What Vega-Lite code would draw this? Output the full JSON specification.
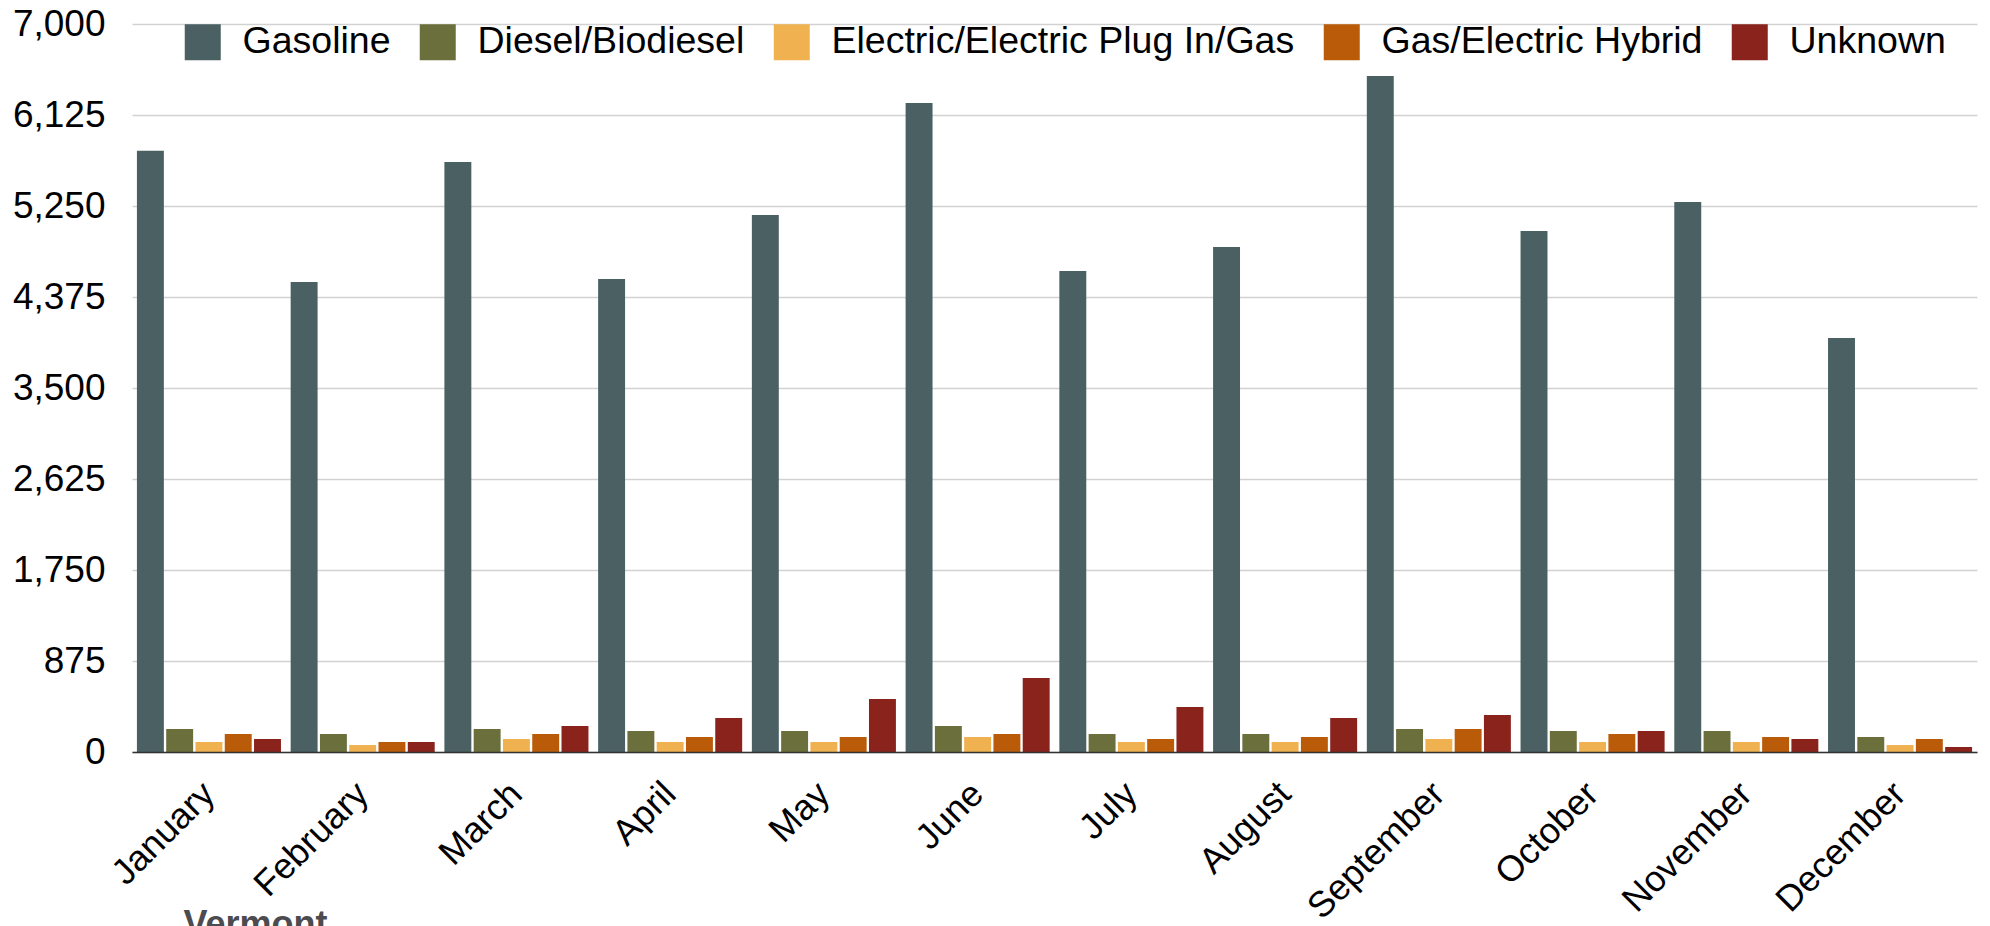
{
  "$schema": "https://vega.github.io/schema/vega-lite/v6.json",
  "autosize": {"type": "none"},
  "padding": {"left": 132, "top": 24, "right": 13, "bottom": 174},
  "width": 1845,
  "height": 728,
  "background": "white",
  "config": {"view": {"stroke": null}, "font": "Liberation Sans"},
  "data": {"values": [
    {"month": "January", "type": "Gasoline", "value": 5782},
    {"month": "January", "type": "Diesel/Biodiesel", "value": 221},
    {"month": "January", "type": "Electric/Electric Plug In/Gas", "value": 96},
    {"month": "January", "type": "Gas/Electric Hybrid", "value": 173},
    {"month": "January", "type": "Unknown", "value": 125},
    {"month": "February", "type": "Gasoline", "value": 4519},
    {"month": "February", "type": "Diesel/Biodiesel", "value": 173},
    {"month": "February", "type": "Electric/Electric Plug In/Gas", "value": 67},
    {"month": "February", "type": "Gas/Electric Hybrid", "value": 96},
    {"month": "February", "type": "Unknown", "value": 96},
    {"month": "March", "type": "Gasoline", "value": 5673},
    {"month": "March", "type": "Diesel/Biodiesel", "value": 221},
    {"month": "March", "type": "Electric/Electric Plug In/Gas", "value": 125},
    {"month": "March", "type": "Gas/Electric Hybrid", "value": 173},
    {"month": "March", "type": "Unknown", "value": 250},
    {"month": "April", "type": "Gasoline", "value": 4548},
    {"month": "April", "type": "Diesel/Biodiesel", "value": 202},
    {"month": "April", "type": "Electric/Electric Plug In/Gas", "value": 96},
    {"month": "April", "type": "Gas/Electric Hybrid", "value": 144},
    {"month": "April", "type": "Unknown", "value": 327},
    {"month": "May", "type": "Gasoline", "value": 5163},
    {"month": "May", "type": "Diesel/Biodiesel", "value": 202},
    {"month": "May", "type": "Electric/Electric Plug In/Gas", "value": 96},
    {"month": "May", "type": "Gas/Electric Hybrid", "value": 144},
    {"month": "May", "type": "Unknown", "value": 510},
    {"month": "June", "type": "Gasoline", "value": 6240},
    {"month": "June", "type": "Diesel/Biodiesel", "value": 250},
    {"month": "June", "type": "Electric/Electric Plug In/Gas", "value": 144},
    {"month": "June", "type": "Gas/Electric Hybrid", "value": 173},
    {"month": "June", "type": "Unknown", "value": 712},
    {"month": "July", "type": "Gasoline", "value": 4625},
    {"month": "July", "type": "Diesel/Biodiesel", "value": 173},
    {"month": "July", "type": "Electric/Electric Plug In/Gas", "value": 96},
    {"month": "July", "type": "Gas/Electric Hybrid", "value": 125},
    {"month": "July", "type": "Unknown", "value": 433},
    {"month": "August", "type": "Gasoline", "value": 4856},
    {"month": "August", "type": "Diesel/Biodiesel", "value": 173},
    {"month": "August", "type": "Electric/Electric Plug In/Gas", "value": 96},
    {"month": "August", "type": "Gas/Electric Hybrid", "value": 144},
    {"month": "August", "type": "Unknown", "value": 327},
    {"month": "September", "type": "Gasoline", "value": 6500},
    {"month": "September", "type": "Diesel/Biodiesel", "value": 221},
    {"month": "September", "type": "Electric/Electric Plug In/Gas", "value": 125},
    {"month": "September", "type": "Gas/Electric Hybrid", "value": 221},
    {"month": "September", "type": "Unknown", "value": 356},
    {"month": "October", "type": "Gasoline", "value": 5010},
    {"month": "October", "type": "Diesel/Biodiesel", "value": 202},
    {"month": "October", "type": "Electric/Electric Plug In/Gas", "value": 96},
    {"month": "October", "type": "Gas/Electric Hybrid", "value": 173},
    {"month": "October", "type": "Unknown", "value": 202},
    {"month": "November", "type": "Gasoline", "value": 5288},
    {"month": "November", "type": "Diesel/Biodiesel", "value": 202},
    {"month": "November", "type": "Electric/Electric Plug In/Gas", "value": 96},
    {"month": "November", "type": "Gas/Electric Hybrid", "value": 144},
    {"month": "November", "type": "Unknown", "value": 125},
    {"month": "December", "type": "Gasoline", "value": 3981},
    {"month": "December", "type": "Diesel/Biodiesel", "value": 144},
    {"month": "December", "type": "Electric/Electric Plug In/Gas", "value": 67},
    {"month": "December", "type": "Gas/Electric Hybrid", "value": 125},
    {"month": "December", "type": "Unknown", "value": 48}
  ]},
  "mark": {"type": "bar"},
  "encoding": {
    "x": {
      "field": "month", "type": "nominal",
      "sort": ["January","February","March","April","May","June","July","August","September","October","November","December"],
      "scale": {"paddingInner": 0.063, "paddingOuter": 0.032},
      "axis": {
        "zindex": 1,
        "domain": true, "domainColor": "#333333", "domainWidth": 1.5,
        "ticks": false, "grid": false,
        "labelAngle": -45, "labelFontSize": 36, "labelColor": "#000000",
        "labelFont": "Liberation Sans", "labelPadding": 36, "labelLimit": 400,
        "labelAlign": "right", "labelBaseline": "middle",
        "title": "Vermont", "titleFont": "Liberation Sans", "titleFontWeight": "bold",
        "titleFontSize": 36, "titleColor": "#4b4b50",
        "titleAngle": 0, "titleAlign": "left", "titleBaseline": "top",
        "titleX": 51, "titleY": 155
      }
    },
    "xOffset": {
      "field": "type",
      "sort": ["Gasoline","Diesel/Biodiesel","Electric/Electric Plug In/Gas","Gas/Electric Hybrid","Unknown"],
      "scale": {"paddingInner": 0.08, "paddingOuter": 0}
    },
    "y": {
      "field": "value", "type": "quantitative",
      "scale": {"domain": [0, 7000], "nice": false},
      "axis": {
        "values": [0, 875, 1750, 2625, 3500, 4375, 5250, 6125, 7000],
        "format": ",d", "title": null, "domain": false, "ticks": false,
        "labelPadding": 27, "labelFontSize": 37, "labelColor": "#000000",
        "labelFont": "Liberation Sans",
        "grid": true, "gridColor": "#d2d2d2", "gridWidth": 1.5
      }
    },
    "color": {
      "field": "type", "type": "nominal",
      "sort": ["Gasoline","Diesel/Biodiesel","Electric/Electric Plug In/Gas","Gas/Electric Hybrid","Unknown"],
      "scale": {
        "domain": ["Gasoline","Diesel/Biodiesel","Electric/Electric Plug In/Gas","Gas/Electric Hybrid","Unknown"],
        "range": ["#4a6062","#6b6f3b","#f0b250","#ba5b09","#8a231c"]
      },
      "legend": {
        "orient": "none", "legendX": 52, "legendY": -1, "direction": "horizontal",
        "title": null, "padding": 0,
        "symbolType": "square", "symbolSize": 1296, "symbolStrokeWidth": 0, "symbolOpacity": 1,
        "labelFontSize": 37.5, "labelFont": "Liberation Sans", "labelColor": "#000000",
        "labelOffset": 21, "columnPadding": 28, "labelLimit": 1000
      }
    }
  }
}
